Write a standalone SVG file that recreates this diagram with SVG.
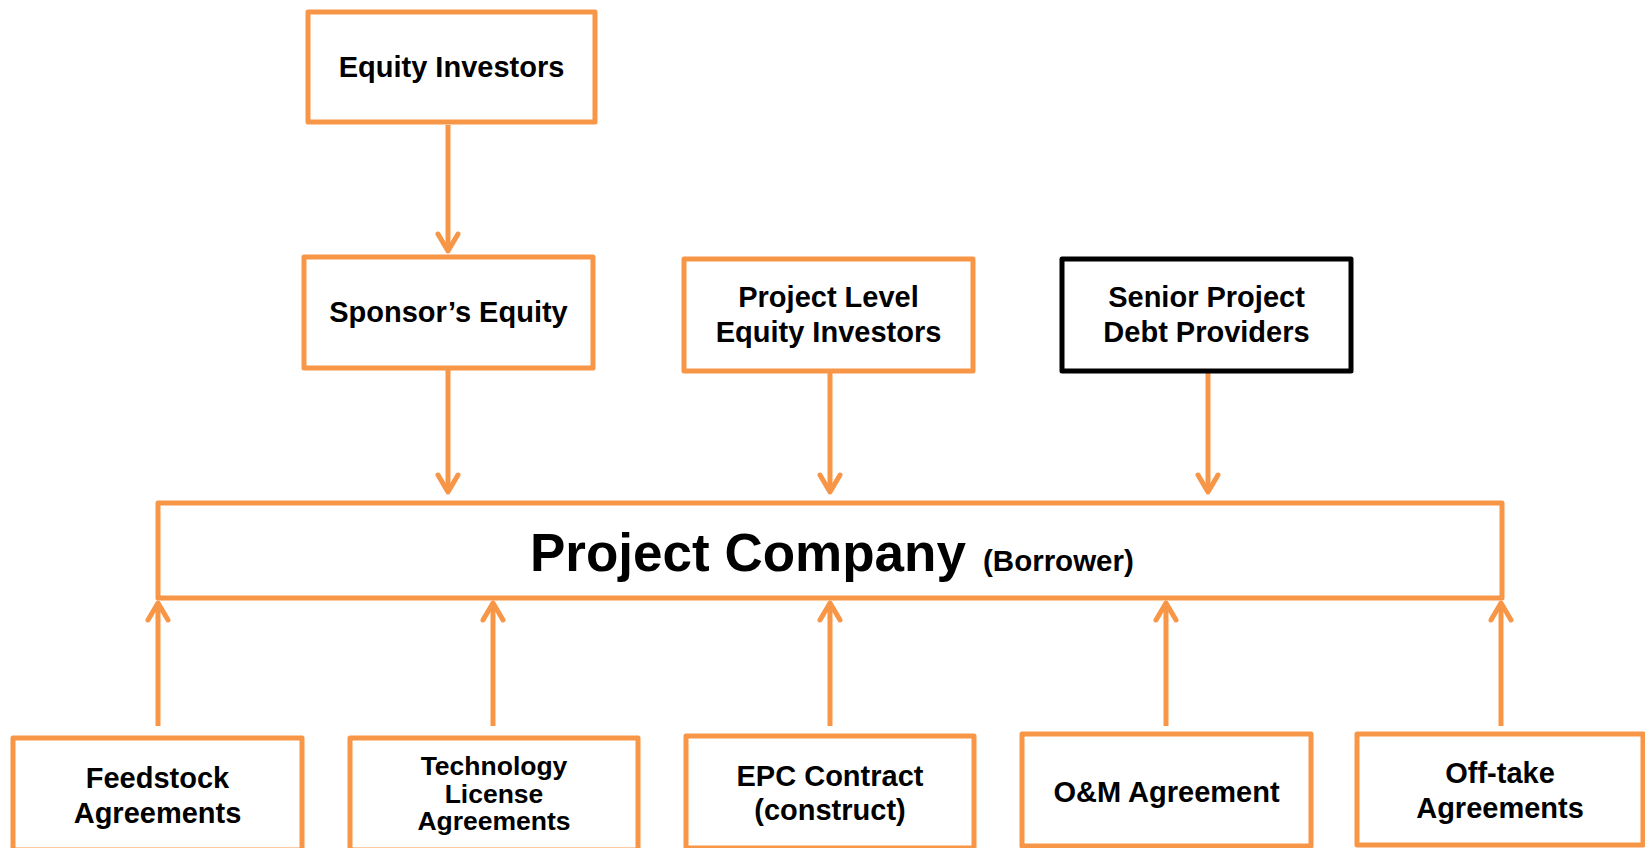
<svg xmlns="http://www.w3.org/2000/svg" width="1645" height="848" viewBox="0 0 1645 848">
<style>
.box{fill:#fff;stroke:#F79646;stroke-width:5;stroke-linejoin:round}
.dark{stroke:#000}
.lbl{font-family:"Liberation Sans",Arial,sans-serif;font-weight:bold;font-size:29px;fill:#000;text-anchor:middle}
.sm{font-size:26.5px}
.conn{stroke:#F79646;stroke-width:5;fill:none}
</style>
<defs>
<marker id="ah" markerUnits="userSpaceOnUse" orient="auto" markerWidth="30" markerHeight="30" viewBox="-22 -15 30 30" refX="0" refY="0" overflow="visible">
<path d="M -17 -10 L 0 0 L -17 10" fill="none" stroke="#F79646" stroke-width="5" stroke-linecap="round" stroke-linejoin="round"/>
</marker>
</defs>
<rect width="1645" height="848" fill="#fff"/>
<g id="connectors">
<line class="conn" x1="448" y1="125" x2="448" y2="251" marker-end="url(#ah)"/>
<line class="conn" x1="448" y1="370" x2="448" y2="492" marker-end="url(#ah)"/>
<line class="conn" x1="830" y1="373" x2="830" y2="492" marker-end="url(#ah)"/>
<line class="conn" x1="1208" y1="373" x2="1208" y2="492" marker-end="url(#ah)"/>
<line class="conn" x1="158" y1="726" x2="158" y2="603" marker-end="url(#ah)"/>
<line class="conn" x1="493" y1="726" x2="493" y2="603" marker-end="url(#ah)"/>
<line class="conn" x1="830" y1="726" x2="830" y2="603" marker-end="url(#ah)"/>
<line class="conn" x1="1166" y1="726" x2="1166" y2="603" marker-end="url(#ah)"/>
<line class="conn" x1="1501" y1="726" x2="1501" y2="603" marker-end="url(#ah)"/>
</g>
<g id="equity-investors">
<rect class="box" x="308" y="12" width="287" height="110"/>
<text class="lbl" x="451.5" y="77">Equity Investors</text>
</g>
<g id="sponsors-equity">
<rect class="box" x="304" y="257" width="289" height="111"/>
<text class="lbl" x="448.5" y="322">Sponsor’s Equity</text>
</g>
<g id="project-level-equity">
<rect class="box" x="684" y="259" width="289" height="112"/>
<text class="lbl" x="828.5" y="307">Project Level</text>
<text class="lbl" x="828.5" y="342">Equity Investors</text>
</g>
<g id="senior-debt">
<rect class="box dark" x="1062" y="259" width="289" height="112"/>
<text class="lbl" x="1206.5" y="307">Senior Project</text>
<text class="lbl" x="1206.5" y="342">Debt Providers</text>
</g>
<g id="project-company">
<rect class="box" x="158" y="503" width="1344" height="95"/>
<text class="lbl" x="530" y="571" style="text-anchor:start;font-size:53px">Project Company<tspan x="983" style="font-size:29.5px">(Borrower)</tspan></text>
</g>
<g id="feedstock">
<rect class="box" x="13" y="738" width="289" height="112"/>
<text class="lbl" x="157.5" y="788">Feedstock</text>
<text class="lbl" x="157.5" y="823">Agreements</text>
</g>
<g id="technology">
<rect class="box" x="350" y="738" width="288" height="112"/>
<text class="lbl sm" x="494" y="775">Technology</text>
<text class="lbl sm" x="494" y="803">License</text>
<text class="lbl sm" x="494" y="830">Agreements</text>
</g>
<g id="epc">
<rect class="box" x="686" y="736" width="288" height="112"/>
<text class="lbl" x="830" y="786">EPC Contract</text>
<text class="lbl" x="830" y="820">(construct)</text>
</g>
<g id="om">
<rect class="box" x="1022" y="734" width="289" height="112"/>
<text class="lbl" x="1166.5" y="802">O&amp;M Agreement</text>
</g>
<g id="offtake">
<rect class="box" x="1357" y="734" width="286" height="111"/>
<text class="lbl" x="1500" y="783">Off-take</text>
<text class="lbl" x="1500" y="818">Agreements</text>
</g>
</svg>
